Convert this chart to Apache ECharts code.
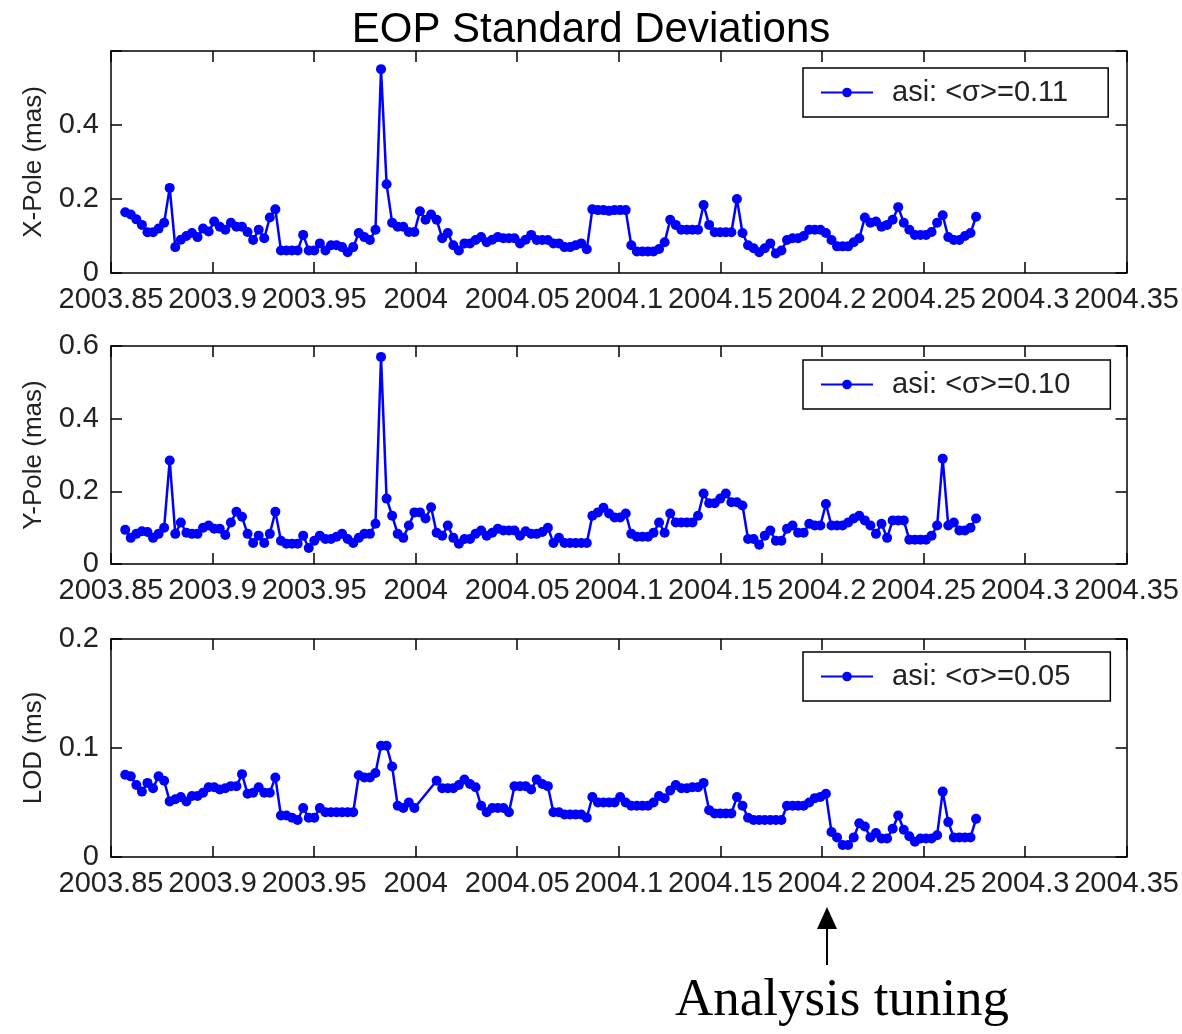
<!DOCTYPE html>
<html>
<head>
<meta charset="utf-8">
<script src="https://cdn.jsdelivr.net/npm/echarts@6/dist/echarts.min.js"></script>
<style>
html,body{margin:0;padding:0;background:#fff;}
#chart{width:1182px;height:1034px;}
</style>
</head>
<body>
<div id="chart"></div>
<script>
// ---- data (daily solutions) ----
const FIRST_EPOCH = 2003.857;      // decimal year of the first solution
const DAYS_PER_YEAR = 365.25;

const xpoleSigma = [
0.164,0.158,0.145,0.13,0.11,0.11,0.12,0.136,0.23,0.07,
0.09,0.1,0.108,0.097,0.12,0.112,0.139,0.125,0.117,0.136,
0.125,0.125,0.111,0.089,0.117,0.094,0.15,0.172,0.061,0.061,
0.061,0.061,0.103,0.061,0.061,0.08,0.061,0.075,0.075,0.07,
0.056,0.07,0.108,0.097,0.089,0.117,0.551,0.24,0.136,0.125,
0.125,0.111,0.111,0.167,0.144,0.158,0.144,0.094,0.108,0.075,
0.061,0.08,0.08,0.089,0.097,0.083,0.09,0.097,0.094,0.094,
0.094,0.08,0.09,0.103,0.089,0.089,0.089,0.08,0.08,0.07,
0.07,0.075,0.08,0.064,0.172,0.17,0.17,0.168,0.17,0.17,
0.17,0.075,0.058,0.058,0.058,0.058,0.065,0.083,0.144,0.13,
0.117,0.117,0.117,0.117,0.184,0.13,0.11,0.11,0.11,0.11,
0.2,0.108,0.075,0.067,0.056,0.067,0.08,0.053,0.061,0.089,
0.094,0.094,0.1,0.117,0.117,0.117,0.108,0.089,0.072,0.072,
0.072,0.083,0.094,0.15,0.136,0.139,0.125,0.13,0.144,0.178,
0.136,0.117,0.103,0.103,0.103,0.111,0.136,0.156,0.097,0.089,
0.089,0.1,0.108,0.152];

const ypoleSigma = [
0.094,0.072,0.083,0.09,0.088,0.072,0.083,0.1,0.285,0.083,
0.114,0.086,0.083,0.083,0.1,0.106,0.097,0.097,0.08,0.114,
0.144,0.13,0.083,0.058,0.078,0.058,0.083,0.144,0.064,0.056,
0.056,0.056,0.078,0.044,0.064,0.078,0.069,0.069,0.075,0.083,
0.069,0.058,0.072,0.083,0.083,0.111,0.57,0.18,0.133,0.083,
0.072,0.106,0.142,0.142,0.125,0.156,0.086,0.078,0.106,0.072,
0.056,0.069,0.069,0.083,0.092,0.078,0.086,0.097,0.092,0.092,
0.092,0.078,0.09,0.083,0.083,0.088,0.1,0.058,0.072,0.058,
0.058,0.058,0.058,0.058,0.133,0.142,0.155,0.139,0.128,0.128,
0.139,0.083,0.075,0.075,0.075,0.086,0.114,0.086,0.139,0.114,
0.114,0.114,0.114,0.133,0.194,0.167,0.167,0.18,0.194,0.17,
0.17,0.161,0.069,0.069,0.053,0.078,0.092,0.064,0.064,0.097,
0.106,0.086,0.086,0.111,0.106,0.106,0.165,0.106,0.106,0.106,
0.114,0.125,0.133,0.12,0.106,0.083,0.111,0.072,0.12,0.12,
0.12,0.067,0.067,0.067,0.067,0.078,0.106,0.29,0.106,0.114,
0.092,0.092,0.1,0.125];

const lodSigma = [
0.0755,0.074,0.066,0.06,0.068,0.063,0.074,0.07,0.051,0.053,
0.055,0.051,0.056,0.056,0.059,0.064,0.064,0.062,0.063,0.065,
0.065,0.076,0.058,0.059,0.064,0.059,0.059,0.073,0.038,0.038,
0.036,0.034,0.045,0.036,0.036,0.045,0.041,0.041,0.041,0.041,
0.041,0.041,0.075,0.073,0.073,0.077,0.102,0.102,0.083,0.047,
0.045,0.05,0.045,null,null,null,0.07,0.063,0.063,0.063,
0.066,0.071,0.067,0.064,0.047,0.041,0.045,0.045,0.045,0.041,
0.065,0.065,0.065,0.062,0.071,0.067,0.065,0.041,0.041,0.039,
0.039,0.039,0.039,0.036,0.055,0.05,0.05,0.05,0.05,0.055,
0.05,0.047,0.047,0.047,0.047,0.05,0.056,0.054,0.061,0.066,
0.063,0.063,0.064,0.064,0.068,0.043,0.04,0.04,0.04,0.04,
0.055,0.047,0.036,0.034,0.034,0.034,0.034,0.034,0.034,0.047,
0.047,0.047,0.047,0.05,0.054,0.055,0.058,0.023,0.018,0.011,
0.011,0.018,0.031,0.028,0.018,0.022,0.017,0.017,0.026,0.038,
0.025,0.019,0.014,0.017,0.017,0.017,0.02,0.06,0.032,0.018,
0.018,0.018,0.018,0.035];

const seriesNames = ['asi: <σ>=0.11', 'asi: <σ>=0.10', 'asi: <σ>=0.05'];
const yAxisNames = ['X-Pole (mas)', 'Y-Pole (mas)', 'LOD (ms)'];
const xTickRange = [2003.85, 2004.35, 0.05];
const yTickRanges = [[0, 0.6, 0.2], [0, 0.6, 0.2], [0, 0.2, 0.1]];
const yHiddenLabels = [[0.6], [], []];
const titleText = 'EOP Standard Deviations';
const annotationText = 'Analysis tuning';

// ---- build ----
const epochs = xpoleSigma.map((_, i) => FIRST_EPOCH + i / DAYS_PER_YEAR);
const allSeries = [xpoleSigma, ypoleSigma, lodSigma];

const grids = [
  {left: 111, right: 55, top: 51, height: 222},
  {left: 111, right: 55, top: 346, height: 218},
  {left: 111, right: 55, top: 639, height: 218}
];
const legendTops = [68, 360, 652];

const FONT = '"Liberation Sans", Arial, sans-serif';
const BLUE = '#0000ff';
const INK = '#222';

const xAxes = [], yAxes = [], series = [], legends = [];
grids.forEach((g, k) => {
  const baseX = {
    type: 'value', gridIndex: k,
    min: xTickRange[0], max: xTickRange[1], interval: xTickRange[2],
    axisLine: {show: true, onZero: false, lineStyle: {color: '#000', width: 1.5}},
    axisTick: {show: true, inside: true, length: 11, lineStyle: {color: '#000', width: 1.5}},
    splitLine: {show: false}
  };
  xAxes.push(Object.assign({}, baseX, {
    position: 'bottom',
    axisLabel: {
      show: true, margin: 12, fontSize: 29, fontFamily: FONT, color: INK,
      hideOverlap: false, showMinLabel: true, showMaxLabel: true,
      formatter: v => String(parseFloat(v.toFixed(2)))
    }
  }));
  xAxes.push(Object.assign({}, baseX, {position: 'top', axisLabel: {show: false}}));

  const yr = yTickRanges[k];
  const hidden = yHiddenLabels[k];
  const baseY = {
    type: 'value', gridIndex: k,
    min: yr[0], max: yr[1], interval: yr[2],
    axisLine: {show: true, onZero: false, lineStyle: {color: '#000', width: 1.5}},
    axisTick: {show: true, inside: true, length: 11, lineStyle: {color: '#000', width: 1.5}},
    splitLine: {show: false}
  };
  yAxes.push(Object.assign({}, baseY, {
    position: 'left',
    name: yAxisNames[k], nameLocation: 'middle', nameGap: 64, nameRotate: 90,
    nameTextStyle: {fontSize: 26, fontFamily: FONT, color: INK},
    axisLabel: {
      show: true, margin: 12, fontSize: 29, fontFamily: FONT, color: INK,
      formatter: v => {
        const r = Math.round(v * 100) / 100;
        return hidden.some(h => Math.abs(h - r) < 1e-9) ? '' : String(r);
      }
    }
  }));
  yAxes.push(Object.assign({}, baseY, {position: 'right', axisLabel: {show: false}}));

  series.push({
    name: seriesNames[k], type: 'line',
    xAxisIndex: 2 * k, yAxisIndex: 2 * k,
    data: epochs.map((t, i) => [t, allSeries[k][i]]),
    connectNulls: true,
    symbol: 'circle', symbolSize: 10, showSymbol: true, showAllSymbol: true,
    lineStyle: {color: BLUE, width: 2.5},
    itemStyle: {color: BLUE},
    animation: false
  });

  legends.push({
    data: [seriesNames[k]],
    left: 803, top: legendTops[k],
    orient: 'horizontal',
    backgroundColor: '#fff',
    borderColor: '#000', borderWidth: 1.5, borderRadius: 0,
    padding: [10, 40, 10, 17],
    itemWidth: 52, itemHeight: 12,
    textStyle: {fontSize: 29, fontFamily: FONT, color: INK, padding: [0, 0, 0, 14]},
    selectedMode: false
  });
});

const chart = echarts.init(document.getElementById('chart'), null, {renderer: 'canvas'});
chart.setOption({
  animation: false,
  backgroundColor: '#fff',
  title: {
    text: titleText, left: 'center', top: 4,
    textStyle: {fontSize: 42, fontWeight: 'normal', fontFamily: FONT, color: '#000'}
  },
  grid: grids,
  xAxis: xAxes,
  yAxis: yAxes,
  legend: legends,
  series: series,
  graphic: [
    {type: 'line', shape: {x1: 827, y1: 965, x2: 827, y2: 926}, style: {stroke: '#000', lineWidth: 2}},
    {type: 'polygon', shape: {points: [[827, 907], [817, 929], [837, 929]]}, style: {fill: '#000'}},
    {type: 'text', x: 842, y: 1001, style: {
      text: annotationText, font: '53px "Liberation Serif", "Times New Roman", serif',
      fill: '#000', textAlign: 'center', textVerticalAlign: 'middle'
    }}
  ]
});
</script>
</body>
</html>
